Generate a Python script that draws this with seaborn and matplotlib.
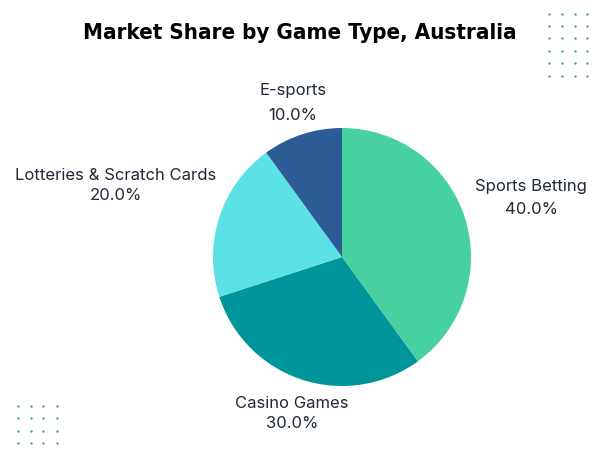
import matplotlib
matplotlib.use('Agg')
import matplotlib.pyplot as plt
import seaborn as sns
import numpy as np

# data
game_types = ['Sports Betting', 'Casino Games', 'Lotteries & Scratch Cards', 'E-sports']
shares = [40.0, 30.0, 20.0, 10.0]
slice_colors = ['#48D1A0', '#00959A', '#5CE1E6', '#2D5B96']

# label block centres (pixel space, y from top) for name / percentage
label_pos = {
    'Sports Betting': ((531, 186), (532, 210)),
    'Casino Games': ((292, 403), (292, 423)),
    'Lotteries & Scratch Cards': ((116, 175), (116, 196)),
    'E-sports': ((293, 90), (293, 115)),
}

sns.set_theme(style='white')
plt.rcParams['font.family'] = ['Inter', 'DejaVu Sans']

W, H = 600, 450
fig = plt.figure(figsize=(6, 4.5), dpi=100)
ax = fig.add_axes([0, 0, 1, 1])

ax.pie(shares, colors=sns.color_palette(slice_colors), startangle=90,
       counterclock=False, center=(342, H - 257), radius=129,
       wedgeprops=dict(linewidth=0), frame=True)
ax.set_xlim(0, W)
ax.set_ylim(0, H)
ax.set_aspect('equal')
ax.axis('off')

text_color = '#1f2937'
for name, val in zip(game_types, shares):
    (nx, ny), (px, py) = label_pos[name]
    ax.text(nx, H - ny, name, ha='center', va='center', fontsize=12,
            color=text_color)
    ax.text(px, H - py, f'{val:.1f}%', ha='center', va='center',
            fontsize=12, color=text_color)

# title
fig.text(0.5, 1 - 33 / H, 'Market Share by Game Type, Australia',
         ha='center', va='center', fontsize=16, fontweight='heavy',
         fontstretch='condensed', family=['DejaVu Sans'], color='black')

# decorative dot grids
dot_color = '#4a9a9a'
gx, gy = np.meshgrid([549, 562, 575, 587], [14, 26, 38, 51, 63, 76])
ax.scatter(gx.ravel(), H - gy.ravel(), s=3, color=dot_color, linewidths=0)
bx, by = np.meshgrid([18, 31, 43, 57], [406, 418, 431, 443])
ax.scatter(bx.ravel(), H - by.ravel(), s=3, color=dot_color, linewidths=0)

fig.savefig('out.png', dpi=100, facecolor='white')
